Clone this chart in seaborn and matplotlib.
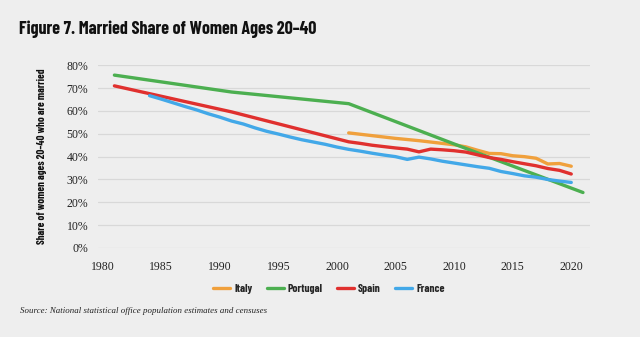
import matplotlib
matplotlib.use("Agg")
import matplotlib.pyplot as plt
import matplotlib.ticker as mticker
import seaborn as sns
import pandas as pd

# ---- data ----
italy_years = list(range(2001, 2021))
italy_vals = [50.4, 49.8, 49.2, 48.6, 48.0, 47.5, 47.0, 46.4, 45.8, 45.2,
              44.3, 42.8, 41.4, 41.3, 40.4, 40.0, 39.3, 36.8, 37.0, 35.8]

portugal_years = [1981, 1991, 2001, 2011, 2021]
portugal_vals = [75.7, 68.3, 63.2, 43.6, 24.3]

spain_years = [1981, 1991] + list(range(2001, 2021))
spain_vals = [71.0, 59.6,
              46.5, 45.8, 45.0, 44.4, 43.8, 43.3, 42.1, 43.3, 43.0, 42.6,
              42.0, 40.8, 39.6, 38.8, 37.8, 36.9, 36.0, 34.8, 34.0, 32.4]

france_years = list(range(1984, 2021))
france_vals = [66.7, 65.2, 63.6, 62.0, 60.5, 58.8, 57.3, 55.6, 54.3, 52.6,
               51.1, 49.9, 48.6, 47.4, 46.4, 45.4, 44.2, 43.2,
               42.4, 41.5, 40.7, 40.0, 38.8, 39.8, 39.0, 38.0, 37.2, 36.4,
               35.6, 34.9, 33.5, 32.6, 31.6, 31.0, 30.0, 29.3, 28.7]

countries = ["Italy", "Portugal", "Spain", "France"]
colors = ["#F0A03C", "#4CAF50", "#E0302E", "#42A8E8"]
x_ticks = [1980, 1985, 1990, 1995, 2000, 2005, 2010, 2015, 2020]
y_ticks = [0, 0.1, 0.2, 0.3, 0.4, 0.5, 0.6, 0.7, 0.8]

title = "Figure 7. Married Share of Women Ages 20\u201340"
ylabel = "Share of women ages 20\u201340 who are married"
source = "Source: National statistical office population estimates and censuses"

frames = []
for name, yrs, vals in [("Italy", italy_years, italy_vals),
                        ("Portugal", portugal_years, portugal_vals),
                        ("Spain", spain_years, spain_vals),
                        ("France", france_years, france_vals)]:
    frames.append(pd.DataFrame({"year": yrs, "share": [v / 100 for v in vals],
                                "country": name}))
df = pd.concat(frames, ignore_index=True)

# ---- plot ----
sns.set_theme(style="white")
bg = "#EEEEEE"
cond = ["Barlow Condensed", "Roboto Condensed", "Oswald", "DejaVu Sans"]
serif = ["Liberation Serif", "DejaVu Serif"]

fig = plt.figure(figsize=(6.4, 3.37), dpi=100, facecolor=bg)
ax = fig.add_axes([98 / 640, 1 - 248 / 337, 492 / 640, (248 - 65.3) / 337])
ax.set_facecolor(bg)

sns.lineplot(data=df, x="year", y="share", hue="country", hue_order=countries,
             palette=dict(zip(countries, colors)), linewidth=2.4, ax=ax,
             legend=False, sort=True, estimator=None)

ax.set_xlim(1979.6, 2021.6)
ax.set_ylim(0, 0.8)
ax.set_xticks(x_ticks)
ax.set_yticks(y_ticks)
ax.yaxis.set_major_formatter(mticker.PercentFormatter(1.0, decimals=0))
ax.grid(axis="y", color="#D8D8D8", linewidth=0.9)
ax.set_axisbelow(True)
for s in ax.spines.values():
    s.set_visible(False)
ax.tick_params(axis="both", length=0, labelsize=8.5, colors="#222222")
ax.tick_params(axis="x", pad=9.5)
ax.tick_params(axis="y", pad=7)
for lab in ax.get_xticklabels() + ax.get_yticklabels():
    lab.set_family(serif)
ax.set_xlabel("")
ax.set_ylabel("")

fig.text(42 / 640, 1 - 156 / 337, ylabel, rotation=90, ha="center", va="center",
         family=cond, fontweight="bold", fontsize=7.7, color="#111111")
fig.text(19 / 640, 1 - 29.5 / 337, title, ha="left", va="center",
         family=cond, fontweight="bold", fontsize=13, color="#111111")
fig.text(20 / 640, 1 - 311 / 337, source, ha="left", va="center",
         family=serif, style="italic", fontsize=6.4, color="#222222")

handles = [plt.Line2D([], [], color=c, linewidth=2.4) for c in colors]
leg = fig.legend(handles, countries, loc="center", bbox_to_anchor=(329 / 640, 1 - 289 / 337),
                 ncol=4, frameon=False, handlelength=1.5, handletextpad=0.35,
                 columnspacing=1.25, prop={"family": cond, "weight": "bold", "size": 8.2})

fig.savefig("out.png", dpi=100, facecolor=bg)
